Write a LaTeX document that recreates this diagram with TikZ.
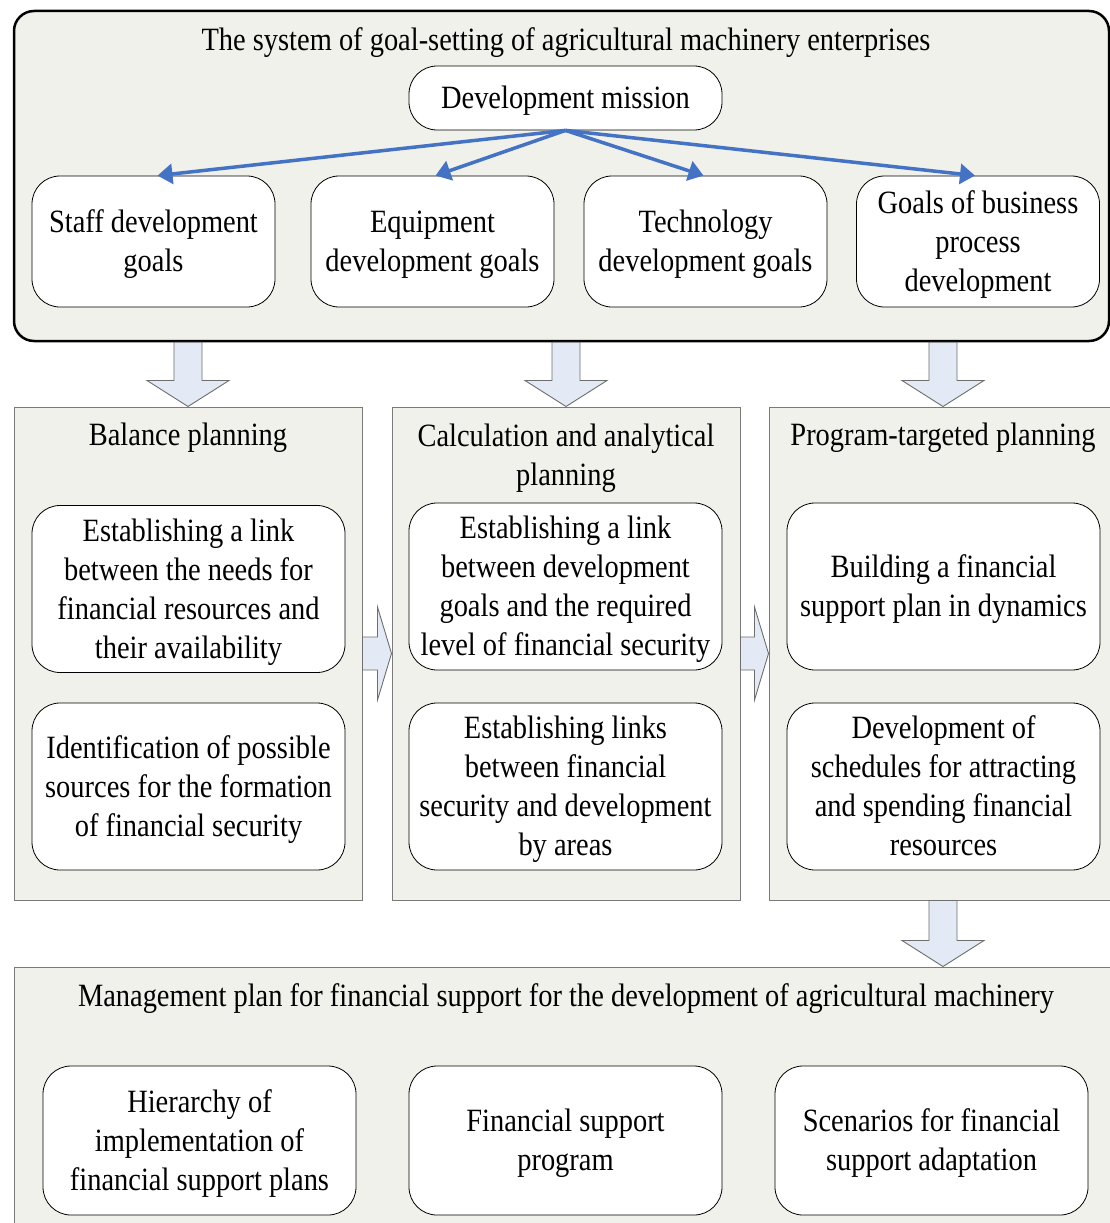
\documentclass[tikz,border=0pt]{standalone}
\usepackage{fontspec}
\setmainfont[FakeStretch=0.875]{Liberation Serif}
\usetikzlibrary{calc,arrows.meta}
\definecolor{panelfill}{HTML}{F0F1EA}
\definecolor{arrowfill}{HTML}{E3EAF5}
\definecolor{arrowline}{HTML}{6E6E6E}
\definecolor{blueline}{HTML}{4472C4}
\definecolor{panelline}{HTML}{7A7A7A}
\newcommand\blockdown[2]{%
  \draw[blockarrow] ($(#1)+(-14,0)$) -- ($(#2)+(-14,-26)$) -- ($(#2)+(-41,-26)$) -- (#2)
    -- ($(#2)+(41,-26)$) -- ($(#2)+(14,-26)$) -- ($(#1)+(14,0)$) -- cycle;}
\newcommand\blockright[2]{%
  \draw[blockarrow] ($(#1)+(0,-16.5)$) -- ($(#2)+(-14,-16.5)$) -- ($(#2)+(-14,-46.5)$) -- (#2)
    -- ($(#2)+(-14,46.5)$) -- ($(#2)+(-14,16.5)$) -- ($(#1)+(0,16.5)$) -- cycle;}
\begin{document}
\begin{tikzpicture}[x=1pt,y=-1pt,
  txt/.style={font=\fontsize{32.5}{39}\selectfont, align=center, inner sep=0pt},
  roundbox/.style={draw=black, line width=0.8pt, fill=white, rounded corners=28pt, inner sep=0pt},
  goalbox/.style={roundbox, minimum width=243pt, minimum height=131pt},
  innerbox/.style={roundbox, minimum width=313pt, minimum height=167pt},
  lowbox/.style={roundbox, minimum width=313pt, minimum height=149pt},
  panel/.style={draw=panelline, line width=1pt, fill=panelfill, inner sep=0pt},
  colpanel/.style={panel, minimum width=348pt, minimum height=493pt},
  blockarrow/.style={draw=arrowline, line width=0.9pt, fill=arrowfill, line join=miter},
  bluearr/.style={draw=blueline, line width=3.5pt, -{Triangle[length=15pt,width=20pt]}}
]
\useasboundingbox (0,0) rectangle (1110,1223);
\clip (0,0) rectangle (1110,1223);
\fill[white] (0,0) rectangle (1110,1223);

% top system panel
\node[panel, draw=black, line width=2.5pt, rounded corners=20pt,
      minimum width=1095pt, minimum height=330pt] (top) at (561.5,176) {};
\node[txt] (toptitle) at (566,43) {The system of goal-setting of agricultural machinery enterprises};
\node[roundbox, minimum width=313pt, minimum height=64pt] (mission) at (565.5,98) {};
\node[txt] (missiont) at ($(mission)+(0,3)$) {Development mission};
\node[goalbox] (staff) at (153.5,241.5) {};
\node[goalbox] (equip) at (432.5,241.5) {};
\node[goalbox] (tech) at (705.5,241.5) {};
\node[goalbox] (bproc) at (978,241.5) {};
\node[txt] (stafft) at ($(staff)+(0,3)$) {Staff development\\goals};
\node[txt] (equipt) at ($(equip)+(0,3)$) {Equipment\\development goals};
\node[txt] (techt) at ($(tech)+(0,3)$) {Technology\\development goals};
\node[txt] (bproct) at ($(bproc)+(0,3)$) {Goals of business\\process\\development};
\draw[bluearr] (mission.south) -- ($(staff.north)+(4,0)$);
\draw[bluearr] (mission.south) -- ($(equip.north)+(3,0)$);
\draw[bluearr] (mission.south) -- ($(tech.north)+(-2,0)$);
\draw[bluearr] (mission.south) -- ($(bproc.north)+(-3,0)$);

% column panels
\node[colpanel] (bal) at (188,653.5) {};
\node[colpanel] (calc) at (566,653.5) {};
\node[colpanel] (prog) at (943,653.5) {};
\node[txt] (baltitle) at (188,438) {Balance planning};
\node[txt] (calctitle) at (566,458) {Calculation and analytical\\planning};
\node[txt] (progtitle) at (943,438) {Program-targeted planning};

\node[innerbox] (b1) at (188.5,589) {};
\node[innerbox] (b2) at (188.5,786.5) {};
\node[innerbox] (c1) at (565.5,586.5) {};
\node[innerbox] (c2) at (565.5,786.5) {};
\node[innerbox] (p1) at (943.5,586.5) {};
\node[innerbox] (p2) at (943.5,786.5) {};
\node[txt] (b1t) at ($(b1)+(0,3)$) {Establishing a link\\between the needs for\\financial resources and\\their availability};
\node[txt] (b2t) at ($(b2)+(0,3)$) {Identification of possible\\sources for the formation\\of financial security};
\node[txt] (c1t) at ($(c1)+(0,3)$) {Establishing a link\\between development\\goals and the required\\level of financial security};
\node[txt] (c2t) at ($(c2)+(0,3)$) {Establishing links\\between financial\\security and development\\by areas};
\node[txt] (p1t) at ($(p1)+(0,3)$) {Building a financial\\support plan in dynamics};
\node[txt] (p2t) at ($(p2)+(0,3)$) {Development of\\schedules for attracting\\and spending financial\\resources\vphantom{y}};

% bottom panel
\node[panel, minimum width=1106pt, minimum height=273pt] (bottom) at (567,1103.5) {};
\node[txt] (bottomtitle) at (566,999) {Management plan for financial support for the development of agricultural machinery};
\node[lowbox] (h1) at (199.5,1140.5) {};
\node[lowbox] (h2) at (565.5,1140.5) {};
\node[lowbox] (h3) at (931.5,1140.5) {};
\node[txt] (h1t) at ($(h1)+(0,3)$) {Hierarchy of\\implementation of\\financial support plans};
\node[txt] (h2t) at ($(h2)+(0,3)$) {Financial support\\program};
\node[txt] (h3t) at ($(h3)+(0,3)$) {Scenarios for financial\\support adaptation};

% block arrows
\coordinate (d1) at (bal.north |- top.south);
\coordinate (d2) at (calc.north |- top.south);
\coordinate (d3) at (prog.north |- top.south);
\coordinate (d4) at (prog.south |- bottom.north);
\blockdown{d1}{bal.north}
\blockdown{d2}{calc.north}
\blockdown{d3}{prog.north}
\blockdown{prog.south}{d4}
\blockright{bal.east}{calc.west}
\blockright{calc.east}{prog.west}
\end{tikzpicture}
\end{document}
